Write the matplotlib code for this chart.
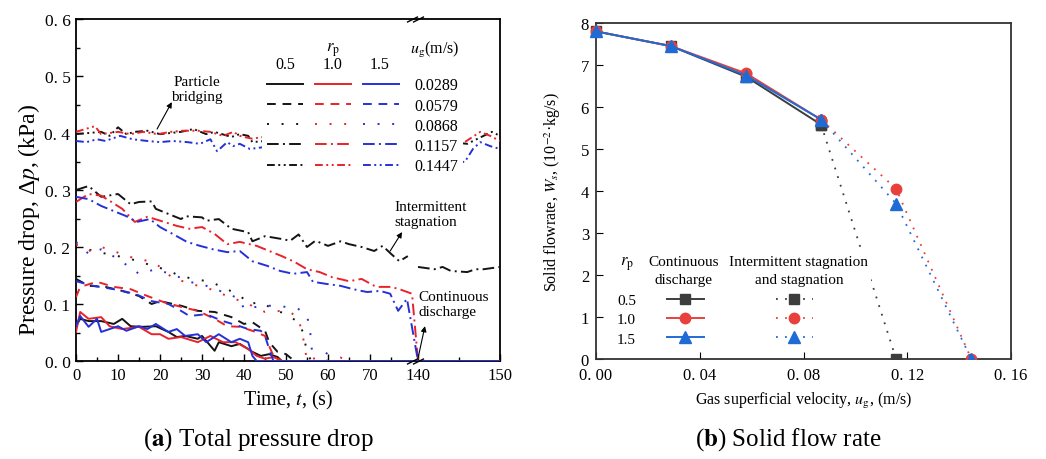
import numpy as np
import matplotlib
matplotlib.use("Agg")
import matplotlib.pyplot as plt
from matplotlib.ticker import FixedLocator, FuncFormatter
from matplotlib.legend_handler import HandlerTuple

plt.rcParams['font.family'] = ['Liberation Serif', 'DejaVu Serif']
plt.rcParams['mathtext.fontset'] = 'stix'

nan = np.nan

# ---------------- (a) total pressure drop vs time ----------------
ug_labels = ['0.0289', '0.0579', '0.0868', '0.1157', '0.1447']
rp_labels = ['0.5', '1.0', '1.5']

# r_p = 0.5
t_05_1 = [0, 1, 3, 6, 9, 11, 13, 16, 19, 22, 24, 26, 29, 30, 33, 34, 37, 39, 41, 42, 44, 46, 48, 49]
p_05_1 = [0.061, 0.074, 0.070, 0.070, 0.065, 0.074, 0.061, 0.060, 0.061, 0.051, 0.042, 0.044, 0.039, 0.044,
          0.018, 0.033, 0.026, 0.030, 0.021, 0.016, 0.009, 0.012, 0.007, 0.0]
t_05_2 = [0, 3, 7, 11, 15, 18, 20, 25, 29, 33, 37, 40, 42, 45, 46, 48, 50, 52]
p_05_2 = [0.144, 0.132, 0.130, 0.123, 0.114, 0.100, 0.105, 0.097, 0.088, 0.086, 0.077, 0.065, 0.068, 0.053,
          0.033, 0.016, 0.012, 0.0]
t_05_3 = [0, 4, 10, 13, 17, 21, 25, 28, 32, 36, 38, 40, 41, 44, 47, 50, 53, 54, 55, 56]
p_05_3 = [0.205, 0.193, 0.184, 0.179, 0.170, 0.161, 0.149, 0.144, 0.139, 0.126, 0.118, 0.109, 0.100, 0.103,
          0.091, 0.082, 0.068, 0.051, 0.016, 0.0]
t_05_4 = [0, 3, 6, 10, 13, 15, 18, 19, 22, 25, 26, 30, 31, 34, 37, 41, 42, 45, 49, 51, 53, 55, 57, 60, 63,
          65, 68, 71, 73, 75, 77, 79, 110, 140, 142, 143, 144, 146, 147, 148, 150]
p_05_4 = [0.300, 0.307, 0.288, 0.293, 0.275, 0.279, 0.280, 0.267, 0.258, 0.249, 0.254, 0.252, 0.246, 0.249,
          0.232, 0.226, 0.210, 0.219, 0.214, 0.211, 0.222, 0.200, 0.211, 0.202, 0.210, 0.205, 0.200, 0.193,
          0.202, 0.188, 0.175, 0.184, nan, 0.165, 0.161, 0.165, 0.158, 0.156, 0.161, 0.161, 0.165]
t_05_5 = [0, 6, 8, 10, 12, 14, 17, 20, 25, 28, 31, 33, 37, 39, 41, 42, 45, 55, 65, 75, 100, 140, 146, 148,
          149, 150]
p_05_5 = [0.398, 0.402, 0.395, 0.410, 0.398, 0.402, 0.404, 0.398, 0.402, 0.407, 0.398, 0.402, 0.393, 0.398,
          0.395, 0.384, 0.386, 0.390, 0.392, 0.388, 0.390, 0.390, 0.381, 0.395, 0.402, 0.395]

# r_p = 1.0
t_10_1 = [0, 1, 3, 6, 8, 11, 15, 18, 20, 22, 25, 29, 32, 35, 38, 41, 43, 45, 47, 49]
p_10_1 = [0.051, 0.086, 0.074, 0.077, 0.061, 0.056, 0.060, 0.047, 0.047, 0.039, 0.042, 0.033, 0.044, 0.033,
          0.033, 0.021, 0.009, 0.004, 0.007, 0.0]
t_10_2 = [0, 1, 5, 9, 13, 17, 21, 25, 29, 33, 36, 39, 42, 45, 46, 47, 49]
p_10_2 = [0.112, 0.130, 0.139, 0.130, 0.126, 0.114, 0.103, 0.095, 0.088, 0.074, 0.061, 0.060, 0.053, 0.044,
          0.026, 0.009, 0.0]
t_10_3 = [0, 3, 6, 9, 12, 15, 18, 21, 23, 26, 29, 32, 36, 40, 41, 45, 49, 51, 53, 54, 55, 58, 60, 63, 65]
p_10_3 = [0.205, 0.193, 0.200, 0.193, 0.184, 0.179, 0.174, 0.161, 0.144, 0.139, 0.132, 0.126, 0.114, 0.103,
          0.100, 0.086, 0.088, 0.086, 0.074, 0.044, 0.0, 0.008, 0.0, 0.006, 0.0]
t_10_4 = [0, 3, 6, 8, 11, 14, 17, 21, 24, 27, 30, 33, 36, 39, 43, 46, 49, 52, 55, 58, 61, 65, 68, 71, 72,
          75, 77, 80, 140]
p_10_4 = [0.279, 0.293, 0.290, 0.281, 0.267, 0.244, 0.253, 0.244, 0.237, 0.232, 0.235, 0.223, 0.205, 0.209,
          0.202, 0.193, 0.184, 0.174, 0.161, 0.156, 0.147, 0.140, 0.144, 0.132, 0.130, 0.130, 0.126, 0.118, 0.0]
t_10_5 = [0, 4.5, 6, 10, 13, 16, 19.5, 22.5, 25.5, 29, 32, 35, 37.5, 39, 40, 42, 44.5, 55, 70, 100, 140,
          145.7, 147.6, 148.8, 150]
p_10_5 = [0.402, 0.412, 0.398, 0.402, 0.398, 0.402, 0.398, 0.402, 0.404, 0.404, 0.402, 0.395, 0.402, 0.395,
          0.393, 0.390, 0.393, 0.395, 0.398, 0.395, 0.390, 0.384, 0.402, 0.395, 0.386]

# r_p = 1.5
t_15_1 = [0, 1, 3, 5, 6, 10, 12, 15, 17, 19, 22, 24, 26, 29, 31, 34, 37, 39, 41, 42, 43, 150]
p_15_1 = [0.061, 0.079, 0.060, 0.074, 0.051, 0.061, 0.053, 0.061, 0.056, 0.065, 0.051, 0.056, 0.044, 0.047,
          0.033, 0.047, 0.033, 0.039, 0.033, 0.009, 0.0, 0.0]
t_15_2 = [0, 4, 9, 14, 18, 22, 25, 27, 31, 35, 39, 41, 44, 45, 46, 47, 52]
p_15_2 = [0.140, 0.132, 0.126, 0.118, 0.105, 0.100, 0.088, 0.079, 0.082, 0.070, 0.061, 0.056, 0.053, 0.044,
          0.021, 0.0, 0.0]
t_15_3 = [0, 3, 6, 10, 15, 19, 24, 27, 31, 35, 39, 40, 43, 46, 50, 53, 55, 55.7, 56.2, 56.5, 58, 60, 61]
p_15_3 = [0.209, 0.188, 0.196, 0.179, 0.153, 0.161, 0.149, 0.139, 0.132, 0.121, 0.109, 0.091, 0.095, 0.097,
          0.095, 0.091, 0.079, 0.056, 0.016, 0.0, 0.0, 0.016, 0.0]
t_15_4 = [0, 3, 6, 9, 12, 14.5, 17.6, 20, 23, 26.4, 29.5, 32.6, 36, 39, 42, 45.5, 48.6, 51.7, 55, 56.4,
          59.8, 62.9, 66, 69.3, 72.4, 74.8, 76.7, 78.8, 140]
p_15_4 = [0.288, 0.284, 0.272, 0.263, 0.254, 0.244, 0.249, 0.235, 0.223, 0.209, 0.202, 0.196, 0.191, 0.193,
          0.175, 0.167, 0.158, 0.153, 0.156, 0.139, 0.135, 0.132, 0.126, 0.121, 0.123, 0.118, 0.088, 0.109, 0.0]
t_15_5 = [0, 2.5, 5, 7, 10.5, 13.5, 17, 20, 23, 26.5, 29.5, 32, 33.6, 36, 37.4, 39, 41.4, 44.5, 60, 80,
          140, 145.7, 146.7, 147.6, 148.8, 150]
p_15_5 = [0.386, 0.384, 0.389, 0.386, 0.395, 0.389, 0.386, 0.384, 0.386, 0.384, 0.381, 0.389, 0.368, 0.384,
          0.377, 0.381, 0.372, 0.375, 0.378, 0.380, 0.360, 0.349, 0.372, 0.384, 0.377, 0.372]

# ---------------- (b) solid flow rate vs gas velocity ----------------
ug_cont = [0.0, 0.0289, 0.0579, 0.0868]
ws_05_cont = [7.80, 7.45, 6.72, 5.58]
ws_10_cont = [7.80, 7.45, 6.80, 5.70]
ws_15_cont = [7.80, 7.45, 6.75, 5.70]
ug_stag_05 = [0.0868, 0.1157]
ws_05_stag = [5.58, 0.0]
ug_stag = [0.0868, 0.1157, 0.1447]
ws_10_stag = [5.70, 4.05, 0.0]
ws_15_stag = [5.70, 3.70, 0.0]

# ---------------- styling ----------------
line_colors = ['#141414', '#e8232b', '#2630d8']
line_styles = ['-', (0, (4.5, 3.5)), (0, (1, 6.5)), (0, (6, 2.2, 1, 2.2)), (0, (4, 1.8, 1, 1.8, 1, 1.8))]
b_colors = ['#3d3d3d', '#e8413c', '#1f6bd6']
b_markers = ['s', 'o', '^']
b_msizes = [6.5, 7.5, 8]

series_a = [
    [(t_05_1, p_05_1), (t_05_2, p_05_2), (t_05_3, p_05_3), (t_05_4, p_05_4), (t_05_5, p_05_5)],
    [(t_10_1, p_10_1), (t_10_2, p_10_2), (t_10_3, p_10_3), (t_10_4, p_10_4), (t_10_5, p_10_5)],
    [(t_15_1, p_15_1), (t_15_2, p_15_2), (t_15_3, p_15_3), (t_15_4, p_15_4), (t_15_5, p_15_5)],
]

fig = plt.figure(figsize=(10.46, 4.6), dpi=100)
ax1 = fig.add_axes([76 / 1046, 98 / 460, 424 / 1046, 342 / 460])
ax2 = fig.add_axes([596 / 1046, 100 / 460, 415 / 1046, 336 / 460])

# broken time axis: 80-140 s is squeezed into a short stretch
T_SRC = [0, 80, 140, 150]
T_DST = [0, 80, 81.43, 100.95]


def fwd(t):
    return np.interp(t, T_SRC, T_DST)


def inv(u):
    return np.interp(u, T_DST, T_SRC)


ax1.set_xscale('function', functions=(fwd, inv))

lines = [[None] * 5 for _ in range(3)]
for i, group in enumerate(series_a):
    for j, (t, p) in enumerate(group):
        ln, = ax1.plot(t, p, color=line_colors[i], ls=line_styles[j], lw=1.4, zorder=3)
        lines[i][j] = ln

ax1.set_xlim(0, 150)
ax1.set_ylim(0, 0.6)
ax1.xaxis.set_major_locator(FixedLocator([0, 10, 20, 30, 40, 50, 60, 70, 140, 150]))
ax1.xaxis.set_minor_locator(FixedLocator([5, 15, 25, 35, 45, 55, 65, 75, 145]))
ax1.xaxis.set_major_formatter(FuncFormatter(lambda v, pos: f"{v:.0f}"))
ax1.xaxis.set_minor_formatter(FuncFormatter(lambda v, pos: ""))
ax1.yaxis.set_major_locator(FixedLocator(np.arange(0, 0.61, 0.1)))
ax1.yaxis.set_minor_locator(FixedLocator(np.arange(0.05, 0.6, 0.1)))
ax1.yaxis.set_major_formatter(FuncFormatter(lambda v, pos: f"{v:.1f}".replace('.', '. ')))
ax1.tick_params(which='both', direction='in', top=False, right=False)
ax1.tick_params(which='major', length=5, width=1.0)
ax1.tick_params(which='minor', length=3, width=1.0)
ax1.tick_params(axis='y', labelsize=12.5, pad=4)
ax1.tick_params(axis='x', labelsize=12, pad=4)
for s in ax1.spines.values():
    s.set_linewidth(1.3)

# break marks on the time axis
brk = ax1.get_xaxis_transform()
ax1.plot([80, 140], [0, 0], transform=brk, marker=[(-1, -0.5), (1, 0.5)], ms=8, mew=1, mec='k',
         ls='none', clip_on=False, zorder=6)
ax1.plot([80, 140], [1, 1], transform=brk, marker=[(-1, -0.5), (1, 0.5)], ms=8, mew=1, mec='k',
         ls='none', clip_on=False, zorder=6)

ax1.set_xlabel("Time, $t$, (s)", fontsize=14.5, labelpad=4)
ax1.set_ylabel("Pressure drop, Δ$p$, (kPa)", fontsize=17)
ax1.yaxis.set_label_coords(-0.08, 0.415)

handles = [tuple(lines[i][j] for i in range(3)) for j in range(5)]
leg1 = ax1.legend(handles, ug_labels, handler_map={tuple: HandlerTuple(ndivide=None, pad=0.75)},
                  handlelength=8.27, handletextpad=0.94, labelspacing=0.26, fontsize=11.5,
                  loc='upper left', bbox_to_anchor=(0.4394, 0.843), borderaxespad=0, borderpad=0.3,
                  frameon=True, fancybox=False)
leg1.get_frame().set_facecolor('white')
leg1.get_frame().set_edgecolor('none')
leg1.get_frame().set_alpha(1)
ax1.text(0.606, 0.912, r"$r_\mathrm{p}$", transform=ax1.transAxes, ha='center', va='center', fontsize=12)
for k, xx in enumerate([0.493, 0.606, 0.717]):
    ax1.text(xx, 0.868, rp_labels[k], transform=ax1.transAxes, ha='center', va='center', fontsize=11.5)
ax1.text(0.847, 0.912, r"$u_\mathrm{g}$(m/s)", transform=ax1.transAxes, ha='center', va='center',
         fontsize=11.5)

arrow_kw = dict(arrowstyle='-|>', color='k', lw=0.8, mutation_scale=8, shrinkA=0, shrinkB=0)
ax1.text(0.285, 0.795, "Particle\nbridging", transform=ax1.transAxes, ha='center', va='center',
         fontsize=11, linespacing=1.15)
ax1.annotate('', xy=(0.226, 0.757), xycoords='axes fraction', xytext=(19.3, 0.407), textcoords='data',
             arrowprops=arrow_kw)
ax1.text(0.752, 0.43, "Intermittent\nstagnation", transform=ax1.transAxes, ha='left', va='center',
         fontsize=11, linespacing=1.15)
ax1.annotate('', xy=(0.769, 0.377), xycoords='axes fraction', xytext=(74.8, 0.193), textcoords='data',
             arrowprops=arrow_kw)
ax1.text(0.807, 0.167, "Continuous\ndischarge", transform=ax1.transAxes, ha='left', va='center',
         fontsize=11, linespacing=1.15)
ax1.annotate('', xy=(0.823, 0.102), xycoords='axes fraction', xytext=(140, 0.005), textcoords='data',
             arrowprops=arrow_kw)

# ---- panel (b) ----
cont = [ws_05_cont, ws_10_cont, ws_15_cont]
stag = [(ug_stag_05, ws_05_stag), (ug_stag, ws_10_stag), (ug_stag, ws_15_stag)]
hb = []
for i in range(3):
    l_s, = ax2.plot(stag[i][0], stag[i][1], color=b_colors[i], ls=(0, (1, 4)), lw=1.3,
                    marker=b_markers[i], ms=b_msizes[i], mec=b_colors[i], mfc=b_colors[i], zorder=3)
    hb.append(l_s)
hc = []
for i in range(3):
    l_c, = ax2.plot(ug_cont, cont[i], color=b_colors[i], ls='-', lw=1.4, marker=b_markers[i],
                    ms=b_msizes[i], mec=b_colors[i], mfc=b_colors[i], clip_on=False, zorder=4)
    hc.append(l_c)

ax2.set_xlim(0, 0.16)
ax2.set_ylim(0, 8)
ax2.xaxis.set_major_locator(FixedLocator([0, 0.04, 0.08, 0.12, 0.16]))
ax2.xaxis.set_major_formatter(FuncFormatter(lambda v, pos: f"{v:.2f}".replace('.', '. ')))
ax2.yaxis.set_major_locator(FixedLocator(range(0, 9)))
ax2.tick_params(which='both', direction='in', top=False, right=False, length=5, labelsize=12)
ax2.tick_params(axis='x', pad=6)
ax2.tick_params(axis='y', pad=5)
for s in ax2.spines.values():
    s.set_linewidth(1.3)
    s.set_color('#333333')
ax2.set_xlabel("Gas superficial velocity, $u_\\mathrm{g}$, (m/s)", fontsize=11.5, labelpad=5)
ax2.set_ylabel("Solid flowrate, $W_s$, (10$^{-2}$·kg/s)", fontsize=11.5)
ax2.yaxis.set_label_coords(-0.08, 0.5)

hb_pairs = [(hc[i], hb[i]) for i in range(3)]
ax2.legend(hb_pairs, rp_labels, handler_map={tuple: HandlerTuple(ndivide=None, pad=4.71)},
           handlelength=9.55, handletextpad=2.03, labelspacing=0.36, fontsize=11, markerfirst=False,
           loc='upper left', bbox_to_anchor=(0.0506, 0.195), borderaxespad=0, borderpad=0, frameon=False)
ax2.text(0.075, 0.285, r"$r_\mathrm{p}$", transform=ax2.transAxes, ha='center', va='center', fontsize=12)
ax2.text(0.21, 0.262, "Continuous\ndischarge", transform=ax2.transAxes, ha='center', va='center',
         fontsize=11, linespacing=1.5)
ax2.text(0.489, 0.262, "Intermittent stagnation\nand stagnation", transform=ax2.transAxes, ha='center',
         va='center', fontsize=11, linespacing=1.5,
         bbox=dict(facecolor='white', edgecolor='none', pad=1.5), zorder=5)

fig.text(258 / 1046, 1 - 440 / 460, r"($\mathbf{a}$) Total pressure drop", ha='center', va='center',
         fontsize=18)
fig.text(788 / 1046, 1 - 440 / 460, r"($\mathbf{b}$) Solid flow rate", ha='center', va='center',
         fontsize=18)

fig.savefig("out.png", dpi=100)
